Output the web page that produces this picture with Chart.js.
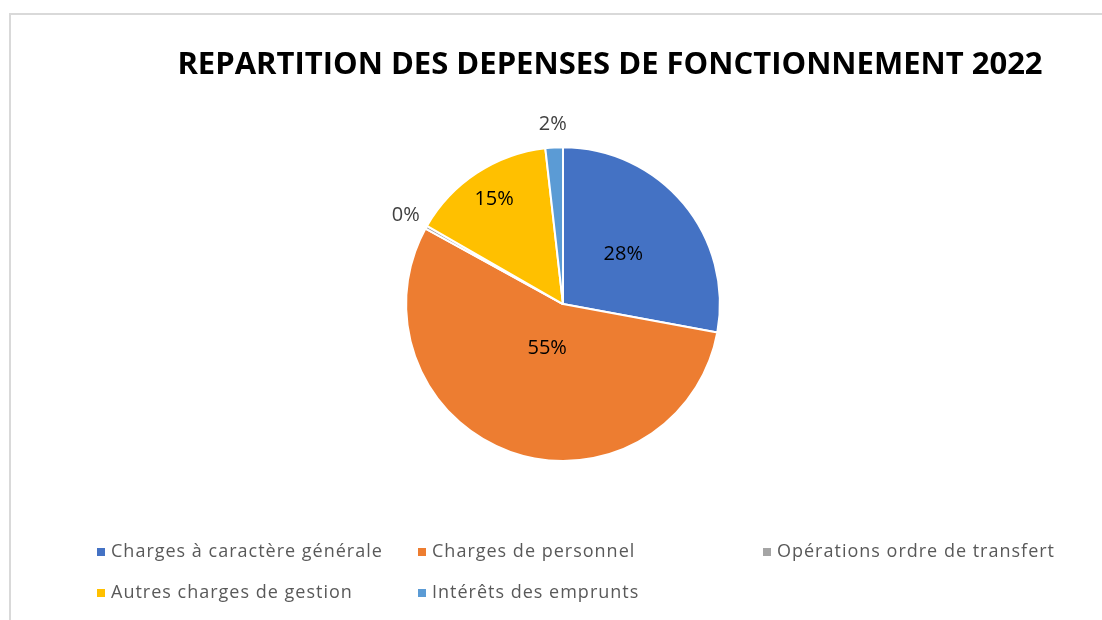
<!DOCTYPE html>
<html>
<head>
<meta charset="utf-8">
<script src="https://cdn.jsdelivr.net/npm/chart.js@4"></script>
<style>
  html, body { margin: 0; padding: 0; background: #fff; overflow: hidden; }
  #frame {
    position: absolute; left: 9px; top: 13px; width: 1300px; height: 700px;
    border-top: 2px solid #d9d9d9; border-left: 2px solid #d9d9d9;
  }
  #wrap { position: absolute; left: 9px; top: 0; width: 1202px; height: 620px; }
</style>
</head>
<body>
<div id="frame"></div>
<div id="wrap"><canvas id="chart"></canvas></div>
<script>
// data
var titleText = 'REPARTITION DES DEPENSES DE FONCTIONNEMENT 2022';
var categories = [
    'Charges à caractère générale',
    'Charges de personnel',
    'Opérations ordre de transfert',
    'Autres charges de gestion',
    'Intérêts des emprunts'
];
var shares = [27.9, 55.1, 0.3, 14.9, 1.8];

// styles
var colors = ['#4472C4', '#ED7D31', '#A5A5A5', '#FFC000', '#5B9BD5'];
var labelRadius = [0.5, 0.3, 1.15, 0.8, 1.15];   // fraction of radius, where each % label sits
var legendOrder = [[0, 1, 2], [3, 4]];            // rows of the legend, as in the picture
var legendCols = [88, 409, 754];
var legendRows = [552, 593];
var titleShift = 47;                              // title is centred right of the pie

// % labels on / beside the slices
var pieLabels = {
    id: 'pieLabels',
    afterDatasetsDraw: function(chart) {
        var ctx = chart.ctx;
        var meta = chart.getDatasetMeta(0);
        var data = chart.data.datasets[0].data;
        var total = data.reduce(function(a, b) { return a + b; }, 0);
        ctx.save();
        ctx.font = '20px "Open Sans"';
        ctx.textAlign = 'center';
        ctx.textBaseline = 'middle';
        meta.data.forEach(function(arc, i) {
            var p = arc.getProps(['x', 'y', 'startAngle', 'endAngle', 'outerRadius'], true);
            var mid = (p.startAngle + p.endAngle) / 2;
            var r = p.outerRadius * labelRadius[i];
            ctx.fillStyle = labelRadius[i] > 1 ? '#404040' : '#000';
            ctx.fillText(Math.round(data[i] / total * 100) + '%',
                p.x + Math.cos(mid) * r, p.y + Math.sin(mid) * r);
        });
        ctx.restore();
    }
};

// legend laid out on a grid like the original
var gridLegend = {
    id: 'gridLegend',
    afterLayout: function(chart) {
        if (chart.titleBlock) {
            chart.titleBlock.left += titleShift;
            chart.titleBlock.right += titleShift;
        }
    },
    afterDraw: function(chart) {
        var ctx = chart.ctx;
        ctx.save();
        ctx.font = '18px "Open Sans"';
        ctx.letterSpacing = '1px';
        ctx.textBaseline = 'middle';
        ctx.textAlign = 'left';
        legendOrder.forEach(function(row, r) {
            row.forEach(function(idx, c) {
                var x = legendCols[c], y = legendRows[r];
                ctx.fillStyle = colors[idx];
                ctx.fillRect(x, y - 4, 8, 8);
                ctx.fillStyle = '#595959';
                ctx.fillText(categories[idx], x + 14, y);
            });
        });
        ctx.restore();
    }
};

new Chart(document.getElementById('chart'), {
    type: 'pie',
    data: {
        labels: categories,
        datasets: [{
            data: shares,
            backgroundColor: colors,
            borderColor: '#ffffff',
            borderWidth: 2
        }]
    },
    options: {
        responsive: true,
        maintainAspectRatio: false,
        animation: false,
        events: [],
        layout: { padding: { left: 0, right: 94, top: 0, bottom: 158 } },
        plugins: {
            legend: { display: false },
            tooltip: { enabled: false },
            title: {
                display: true,
                text: titleText,
                color: '#000',
                font: { family: 'Open Sans', size: 31, weight: 'bold', lineHeight: 1.2 },
                padding: { top: 47, bottom: 62 }
            }
        }
    },
    plugins: [pieLabels, gridLegend]
});
</script>
</body>
</html>
